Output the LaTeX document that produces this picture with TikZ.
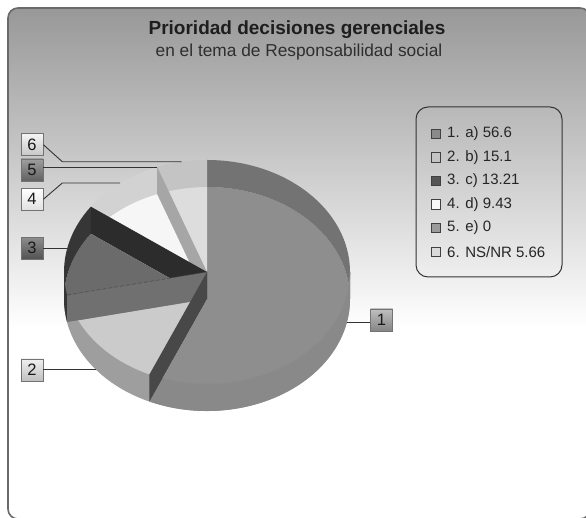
\documentclass[tikz,border=0pt]{standalone}
\usepackage{fontspec}
\setmainfont{Liberation Sans}
\definecolor{bgtop}{HTML}{989898}
\definecolor{framec}{HTML}{6A6A6A}
\definecolor{titlec}{HTML}{1E1E1E}
\definecolor{subc}{HTML}{2E2E2E}
% pie colours
\definecolor{f1}{HTML}{8E8E8E}
\definecolor{f2}{HTML}{CBCBCB}
\definecolor{f3}{HTML}{6B6B6B}
\definecolor{f4}{HTML}{F6F6F6}
\definecolor{f6}{HTML}{DDDDDD}
\definecolor{w1}{HTML}{737373}
\definecolor{w3}{HTML}{363636}
\definecolor{w4}{HTML}{D2D2D2}
\definecolor{w6}{HTML}{C4C4C4}
\definecolor{fr1}{HTML}{898989}
\definecolor{fr2}{HTML}{9E9E9E}
\definecolor{rw5}{HTML}{A6A6A6}
\definecolor{rw3}{HTML}{2C2C2C}
\definecolor{rw23}{HTML}{707070}
\definecolor{rw12}{HTML}{484848}
% legend colours
\definecolor{l1}{HTML}{8A8A8A}
\definecolor{l2}{HTML}{C4C4C4}
\definecolor{l3}{HTML}{555555}
\definecolor{l4}{HTML}{F8F8F8}
\definecolor{l5}{HTML}{9A9A9A}
\definecolor{l6}{HTML}{DADADA}
\newcommand{\pieband}[3]{%
  \fill[#1] ({207+143*cos(#2)},{246+112*sin(#2)}) arc[start angle=#2,end angle=#3,x radius=143,y radius=112]
  -- ({207+143*cos(#3)},{219+112*sin(#3)}) arc[start angle=#3,end angle=#2,x radius=143,y radius=112] -- cycle;}
\newcommand{\piefloor}[3]{%
  \fill[#1] (207,219) -- ({207+143*cos(#2)},{219+112*sin(#2)}) arc[start angle=#2,end angle=#3,x radius=143,y radius=112] -- cycle;}
\newcommand{\piewall}[2]{%
  \fill[#1] (207,246) -- ({207+143*cos(#2)},{246+112*sin(#2)}) -- ({207+143*cos(#2)},{219+112*sin(#2)}) -- (207,219) -- cycle;}
\tikzset{
  lbl/.style={draw=black!55, line width=0.7pt, minimum width=22pt, minimum height=22pt, inner sep=0pt,
    font=\fontsize{16.5}{16.5}\selectfont, text=black!90},
  lead/.style={draw=black!80, line width=0.9pt},
  lsq/.style={draw=black!75, line width=0.7pt, minimum size=9.5pt, inner sep=0pt},
  ltext/.style={anchor=west, font=\fontsize{15}{15}\selectfont, text=black!85, inner sep=0pt},
}
\begin{document}
\begin{tikzpicture}[x=1pt,y=1pt]
\useasboundingbox (0,0) rectangle (586,518);
% background panel
\begin{scope}
  \clip[rounded corners=10pt] (8,-1) rectangle (590,510);
  \fill[white] (0,0) rectangle (590,518);
  \shade[top color=bgtop, bottom color=white] (0,190) rectangle (590,510);
\end{scope}
\draw[framec, line width=1.6pt, rounded corners=10pt] (8,-1) rectangle (590,510);

% title
\node[font=\bfseries\fontsize{19}{22}\selectfont, text=titlec, anchor=base] (title) at (297,483) {Prioridad decisiones gerenciales};
\node[font=\fontsize{17.3}{20}\selectfont, text=subc, anchor=base] (subtitle) at (299,461) {en el tema de Responsabilidad social};

% pie floors
\piefloor{f1}{-113.76}{90}
\piefloor{f2}{191.88}{246.24}
\piefloor{f3}{144.324}{191.88}
\piefloor{f4}{110.376}{144.324}
\piefloor{f6}{90}{110.376}
% back walls (inside)
\pieband{w1}{0}{90}
\pieband{w6}{90}{110.376}
\pieband{w4}{110.376}{144.324}
\pieband{w3}{144.324}{180}
% front walls
\pieband{w3}{180}{191.88}
\pieband{fr2}{191.88}{246.24}
\pieband{fr1}{246.24}{360}
\draw[black!45, line width=0.6pt] ({207+143*cos(246.24)},{246+112*sin(246.24)}) arc[start angle=246.24,end angle=360,x radius=143,y radius=112];
% radial walls
\piewall{rw5}{110.376}
\piewall{rw3}{144.324}
\piewall{rw23}{191.88}
\piewall{rw12}{246.24}
\draw[black!70, dashed, dash pattern=on 4pt off 2pt, line width=0.6pt] (207,246) -- ({207+143*cos(191.88)},{246+112*sin(191.88)});

% leader end points
\coordinate (p6) at ({207+143*cos(100.19)},{246+112*sin(100.19)});
\coordinate (p5) at ({207+143*cos(110.376)},{246+112*sin(110.376)});
\coordinate (p4) at ({207+143*cos(127.35)},{246+112*sin(127.35)});
\coordinate (p3) at ({207+143*cos(168.1)},{246+112*sin(168.1)});
\coordinate (p2) at ({207+143*cos(219.06)},{219+112*sin(219.06)});
\coordinate (p1) at ({207+143*cos(348.12)},{219+112*sin(348.12)});

% label boxes
\node[lbl, top color=white!96!black, bottom color=black!22] (b6) at (32,373.3) {6};
\node[lbl, top color=black!38, bottom color=black!62] (b5) at (32,348) {5};
\node[lbl, top color=white, bottom color=black!12] (b4) at (32,318.7) {4};
\node[lbl, top color=black!45, bottom color=black!68] (b3) at (32,269.7) {3};
\node[lbl, top color=white!94!black, bottom color=black!25] (b2) at (32,148) {2};
\node[lbl, top color=black!25, bottom color=black!48] (b1) at (381.5,198) {1};

% leaders
\draw[lead] (b6.east) -- ([xshift=19pt]b6.east |- p6) -- (p6);
\draw[lead] (b5.east |- p5) -- (p5);
\draw[lead] (b4.east) -- ([xshift=19pt]b4.east |- p4) -- (p4);
\draw[lead] (b3.east |- p3) -- (p3);
\draw[lead] (b2.east |- p2) -- (p2);
\draw[lead] (b1.west |- p1) -- (p1);

% legend
\node[draw=black!80, line width=1pt, rounded corners=12pt, minimum width=146pt, minimum height=170pt, inner sep=0pt] (legend) at (489,326) {};
\node[lsq, fill=l1] (s1) at (436,384) {};
\node[lsq, fill=l2] (s2) at (436,360.7) {};
\node[lsq, fill=l3] (s3) at (436,337.3) {};
\node[lsq, fill=l4] (s4) at (436,313.6) {};
\node[lsq, fill=l5] (s5) at (436,290) {};
\node[lsq, fill=l6] (s6) at (436,266.3) {};
\node[ltext] (t1) at (447,384) {1. a) 56.6};
\node[ltext] (t2) at (447,360.7) {2. b) 15.1};
\node[ltext] (t3) at (447,337.3) {3. c) 13.21};
\node[ltext] (t4) at (447,313.6) {4. d) 9.43};
\node[ltext] (t5) at (447,290) {5. e) 0};
\node[ltext] (t6) at (447,266.3) {6. NS/NR 5.66};
\end{tikzpicture}
\end{document}
